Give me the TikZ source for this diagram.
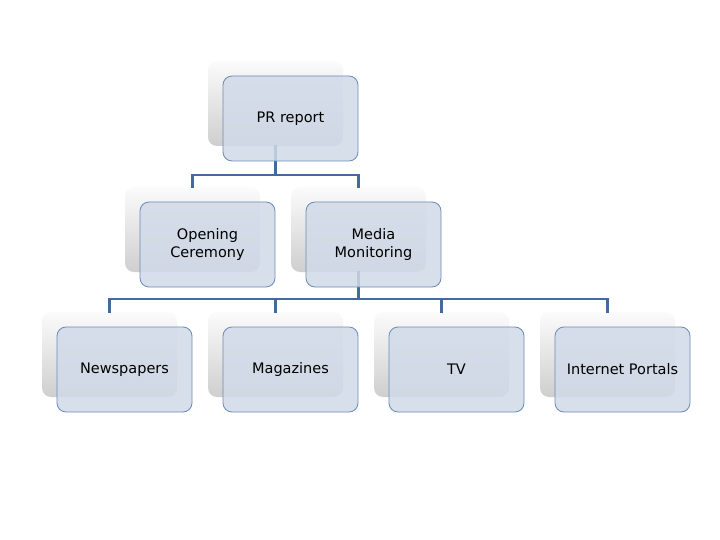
\documentclass[tikz,border=0pt]{standalone}
\usepackage{fontspec}
\setmainfont{DejaVu Sans}
\definecolor{frontfill}{HTML}{D0DAE8}
\definecolor{frontline}{HTML}{6A8BB6}
\definecolor{linkcol}{HTML}{44699C}
\begin{document}
\begin{tikzpicture}[x=1pt,y=-1pt,
  backbox/.style={rounded corners=9pt, minimum width=135pt, minimum height=85pt, inner sep=0pt,
     top color=gray!3, bottom color=gray!38, draw=none},
  frontbox/.style={rounded corners=9pt, minimum width=135pt, minimum height=85pt, inner sep=2pt,
     fill=frontfill, fill opacity=0.85, text opacity=1, draw=frontline, line width=0.8pt,
     align=center, font=\fontsize{14.5}{18.5}\selectfont},
  link/.style={draw=linkcol, line width=2.6pt, line cap=rect}]
\useasboundingbox (0,0) rectangle (720,540);
\fill[white] (0,0) rectangle (720,540);
% back boxes
\node[backbox] (prb) at (275.5,103.5) {};
\node[backbox] (ocb) at (192.5,229.5) {};
\node[backbox] (mmb) at (358.5,229.5) {};
\node[backbox] (nwb) at (109.5,354.5) {};
\node[backbox] (mgb) at (275.5,354.5) {};
\node[backbox] (tvb) at (441.5,354.5) {};
\node[backbox] (ipb) at (607.5,354.5) {};
% connectors
\coordinate (j1) at (275.5,175);
\coordinate (j2) at (358.5,299);
\draw[link] (prb.south) -- (j1);
\draw[link] (ocb.north) |- (j1) -| (mmb.north);
\draw[link] (mmb.south) -- (j2);
\draw[link] (nwb.north) |- (j2) -| (ipb.north);
\draw[link] (mgb.north) -- (mgb.north |- j2);
\draw[link] (tvb.north) -- (tvb.north |- j2);
% front boxes
\node[frontbox] (pr) at (290.5,118.5) {PR report};
\node[frontbox] (oc) at (207.5,244.5) {Opening\\Ceremony};
\node[frontbox] (mm) at (373.5,244.5) {Media\\Monitoring};
\node[frontbox] (nw) at (124.5,369.5) {Newspapers};
\node[frontbox] (mg) at (290.5,369.5) {Magazines};
\node[frontbox] (tv) at (456.5,369.5) {TV};
\node[frontbox] (ip) at (622.5,369.5) {Internet Portals};
\end{tikzpicture}
\end{document}
